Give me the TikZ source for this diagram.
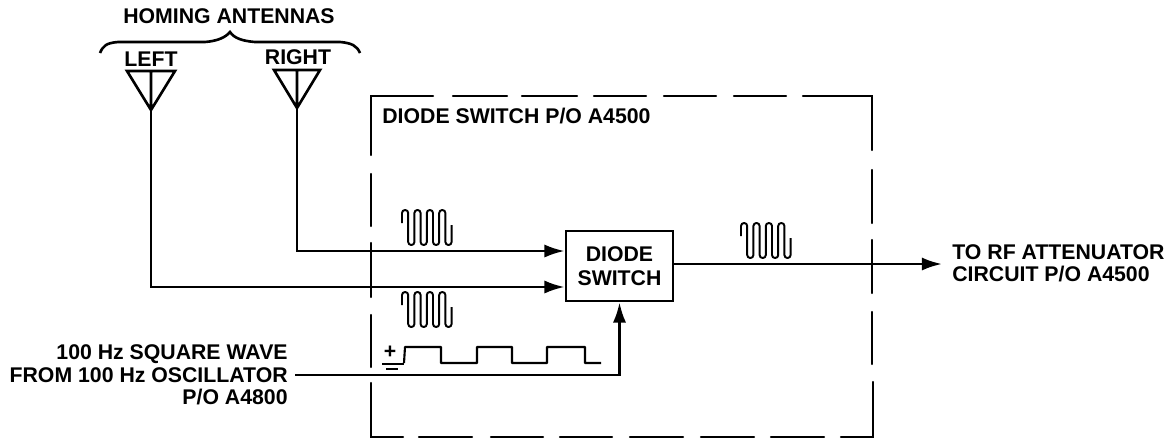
\documentclass[tikz,border=0pt]{standalone}
\usepackage{fontspec}
\setmainfont{Liberation Sans}
\usetikzlibrary{arrows.meta}
\tikzset{
  lbl/.style={font=\fontsize{12.1}{12.7}\selectfont\bfseries, align=center, inner sep=0pt},
  wire/.style={line width=1.5pt},
  arr/.style={wire, -{Latex[length=11.5pt, width=7.5pt]}},
  dashbox/.style={line width=1.4pt, line cap=round},
  thin wire/.style={line width=1.2pt, line join=round},
  block/.style={draw, line width=1.6pt, lbl, minimum width=2.14cm, minimum height=1.4cm},
  burst/.pic={
    \draw[line width=1.1pt, rounded corners=1.7pt] (0,0) -- (0,-13) -- (6.2,-13) -- (6.2,22) -- (12.4,22) -- (12.4,-13) -- (18.6,-13) -- (18.6,22)
      -- (24.8,22) -- (24.8,-13) -- (31,-13) -- (31,22) -- (37.2,22) -- (37.2,-13) -- (43.4,-13) -- (43.4,22) -- (49.6,22) -- (49.6,2);
  }
}
\begin{document}
\begin{tikzpicture}[x=0.02cm, y=-0.02cm]
  \useasboundingbox (0,0) rectangle (1175,440);

  % antennas
  \node[lbl] (homing) at (229,16) {HOMING ANTENNAS};
  \node[lbl] (leftlbl) at (151,59) {LEFT};
  \node[lbl] (rightlbl) at (298,57) {RIGHT};
  \coordinate (leftant) at (151,110);
  \coordinate (rightant) at (297,108);
  \draw[wire, line join=miter] (leftant) -- ++(-24,-39) -- ++(48,0) -- cycle (leftant) -- ++(0,-39);
  \draw[wire, line join=miter] (rightant) -- ++(-23,-38) -- ++(46,0) -- cycle (rightant) -- ++(0,-38);
  \draw[wire] (100,53) .. controls (103,46) and (106,43) .. (118,42) -- (205,42)
    .. controls (218,41) and (226,37) .. (230,32) .. controls (234,38) and (242,41) .. (255,42)
    -- (340,42) .. controls (352,43) and (357,46) .. (360,53);

  % dashed outline
  \node[lbl, anchor=west] (boxlbl) at (382,116) {DIODE SWITCH P/O A4500};
  \draw[dashbox] (371,155) -- (371,96) -- (433,96);
  \draw[dashbox] (864,96) -- (872,96) -- (872,150);
  \draw[dashbox] (371,383) -- (371,437) -- (403,437);
  \draw[dashbox] (841,437) -- (873,437) -- (873,382);
  \foreach \a/\b in {453/507, 522/577, 594/646, 664/716, 734/786, 803/864}
    \draw[dashbox] (\a,96) -- (\b,96);
  \foreach \a/\b in {419/472, 491/543, 560/612, 630/683, 701/754, 771/824}
    \draw[dashbox] (\a,437) -- (\b,437);
  \foreach \a/\b in {174/226, 243/297, 315/367}
    \draw[dashbox] (371,\a) -- (371,\b);
  \foreach \a/\b in {170/223, 240/293, 312/364}
    \draw[dashbox] (872,\a) -- (872,\b);

  % switch and signal paths
  \node[block] (switch) at (619.5,266) {DIODE\\[0.9pt]SWITCH};
  \node[lbl, align=right, anchor=east, inner xsep=4pt] (osc) at (295,375) {100 Hz SQUARE WAVE\\FROM 100 Hz OSCILLATOR\\P/O A4800};
  \node[lbl, align=left, anchor=west] (rflbl) at (952,263) {TO RF ATTENUATOR\\CIRCUIT P/O A4500};
  \coordinate (rfout) at (942,264);

  \draw[arr] (rightant) |- ([yshift=0.3cm]switch.west);
  \draw[arr] (leftant) |- ([yshift=-0.42cm]switch.west);
  \draw[arr] (osc.east) -| (switch.south);
  \draw[arr] (switch.east |- rfout) -- (rfout);

  % waveforms
  \pic at (402,223) {burst};
  \pic at (402,305) {burst};
  \pic at (741,236) {burst};
  \draw[thin wire] (404,363) -- (405,347) -- (441,347) -- (441,363) -- (477,363) -- (477,347) -- (512,347) -- (512,363)
    -- (547,363) -- (547,347) -- (585,347) -- (585,363) -- (601,363);
  \draw[thin wire] (382,364) -- (404,364);
  \draw[line width=1.4pt] (386,369) -- (398,369);
  \node[lbl] (plus) at (390,352) {+};
\end{tikzpicture}
\end{document}
